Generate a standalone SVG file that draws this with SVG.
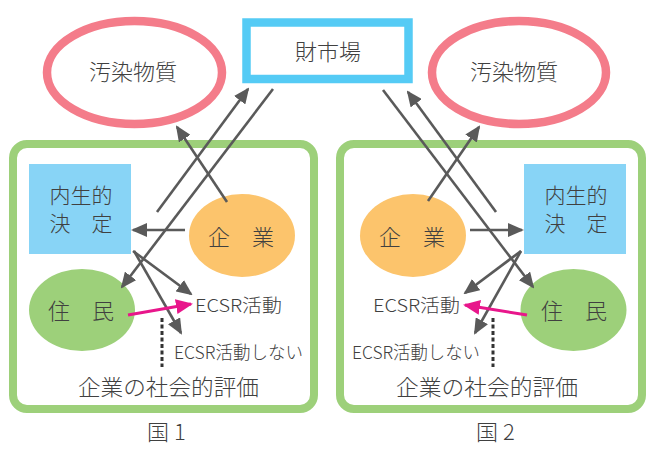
<svg xmlns="http://www.w3.org/2000/svg" width="653" height="450" viewBox="0 0 653 450">
<style>
text{font-family:"Noto Sans CJK JP","Noto Sans",sans-serif;font-weight:300;fill:#404040}
.big{font-size:22px}
.dtx{font-size:21px}
.mid{font-size:18px}
.pol{fill:none;stroke:#F47C8A;stroke-width:8.5}
.mkt{fill:#fff;stroke:#55CBF5;stroke-width:8.5}
.country{fill:#fff;stroke:#9DD07A;stroke-width:8}
.dec{fill:#88D4F6}
.firm{fill:#FCC46C}
.res{fill:#9DD07A}
.arr{stroke:#5A5A5A;stroke-width:2.6;fill:none;marker-end:url(#ah)}
.pink{stroke:#E8168B;stroke-width:3;fill:none;marker-end:url(#ahp)}
.dot{stroke:#333;stroke-width:3;stroke-dasharray:4 2.5;fill:none}
</style>
<defs>
<marker id="ah" markerUnits="userSpaceOnUse" markerWidth="16" markerHeight="14" viewBox="0 0 16 14" refX="14" refY="7" orient="auto">
<path d="M0,0 L16,7 L0,14 z" fill="#5A5A5A"/>
</marker>
<marker id="ahp" markerUnits="userSpaceOnUse" markerWidth="17" markerHeight="15" viewBox="0 0 17 15" refX="15" refY="7.5" orient="auto">
<path d="M0,0 L17,7.5 L0,15 z" fill="#E8168B"/>
</marker>
</defs>
<g id="country1">
<rect class="country" x="13" y="144" width="301" height="265" rx="14"/>
</g>
<g id="country2">
<rect class="country" x="340" y="144" width="302" height="265" rx="14"/>
</g>
<g id="market">
<rect class="mkt" x="246.5" y="22.5" width="162" height="56.5"/>
<text class="big" x="328" y="60" text-anchor="middle">財市場</text>
</g>
<g id="pollution1">
<ellipse class="pol" cx="134.5" cy="72.5" rx="87.5" ry="51.5"/>
<text class="big" x="133" y="80" text-anchor="middle">汚染物質</text>
</g>
<g id="pollution2">
<ellipse class="pol" cx="519" cy="72.5" rx="87" ry="51.5"/>
<text class="big" x="514" y="80" text-anchor="middle">汚染物質</text>
</g>
<g id="decision1">
<rect class="dec" x="29" y="164" width="102" height="90"/>
<text class="dtx" x="81" y="203" text-anchor="middle">内生的</text>
<text class="dtx" x="81" y="231" text-anchor="middle">決　定</text>
</g>
<g id="decision2">
<rect class="dec" x="524" y="164" width="102" height="90"/>
<text class="dtx" x="576" y="203" text-anchor="middle">内生的</text>
<text class="dtx" x="576" y="231" text-anchor="middle">決　定</text>
</g>
<g id="firm1">
<ellipse class="firm" cx="242" cy="235.5" rx="53" ry="41.5"/>
<text class="big" x="241" y="245" text-anchor="middle">企　業</text>
</g>
<g id="firm2">
<ellipse class="firm" cx="413" cy="235.5" rx="53" ry="41.5"/>
<text class="big" x="412" y="245" text-anchor="middle">企　業</text>
</g>
<g id="resident1">
<ellipse class="res" cx="82" cy="310" rx="53" ry="41"/>
<text class="big" x="81" y="319" text-anchor="middle">住　民</text>
</g>
<g id="resident2">
<ellipse class="res" cx="573.5" cy="310" rx="53" ry="41"/>
<text class="big" x="574" y="319" text-anchor="middle">住　民</text>
</g>
<g id="labels">
<text class="mid" x="195" y="312" textLength="87" lengthAdjust="spacingAndGlyphs">ECSR活動</text>
<text class="mid" x="174" y="359" textLength="129" lengthAdjust="spacingAndGlyphs">ECSR活動しない</text>
<text class="big" x="78" y="395" textLength="181" lengthAdjust="spacingAndGlyphs">企業の社会的評価</text>
<text class="big" x="147" y="440">国<tspan dx="5">1</tspan></text>
<text class="mid" x="373" y="312" textLength="87" lengthAdjust="spacingAndGlyphs">ECSR活動</text>
<text class="mid" x="352" y="359" textLength="128" lengthAdjust="spacingAndGlyphs">ECSR活動しない</text>
<text class="big" x="396" y="395" textLength="182" lengthAdjust="spacingAndGlyphs">企業の社会的評価</text>
<text class="big" x="476" y="440">国<tspan dx="5">2</tspan></text>
</g>
<g id="connectors">
<line class="arr" x1="227" y1="202" x2="177" y2="127"/>
<line class="arr" x1="157" y1="212" x2="248" y2="89"/>
<line class="arr" x1="273" y1="89" x2="122" y2="287"/>
<line class="arr" x1="185" y1="230" x2="133" y2="230"/>
<line class="arr" x1="133" y1="251" x2="191" y2="294"/>
<line class="arr" x1="134" y1="251" x2="181" y2="333"/>
<line class="pink" x1="128" y1="315" x2="191" y2="304"/>
<line class="dot" x1="162" y1="318" x2="162" y2="367"/>
<line class="arr" x1="428" y1="201" x2="479" y2="127"/>
<line class="arr" x1="496" y1="212" x2="408" y2="92"/>
<line class="arr" x1="383" y1="90" x2="533" y2="287"/>
<line class="arr" x1="470" y1="230" x2="522" y2="230"/>
<line class="arr" x1="521" y1="251" x2="465" y2="293"/>
<line class="arr" x1="521" y1="251" x2="475" y2="333"/>
<line class="pink" x1="527" y1="315" x2="465" y2="305"/>
<line class="dot" x1="493" y1="318" x2="493" y2="367"/>
</g>
</svg>
